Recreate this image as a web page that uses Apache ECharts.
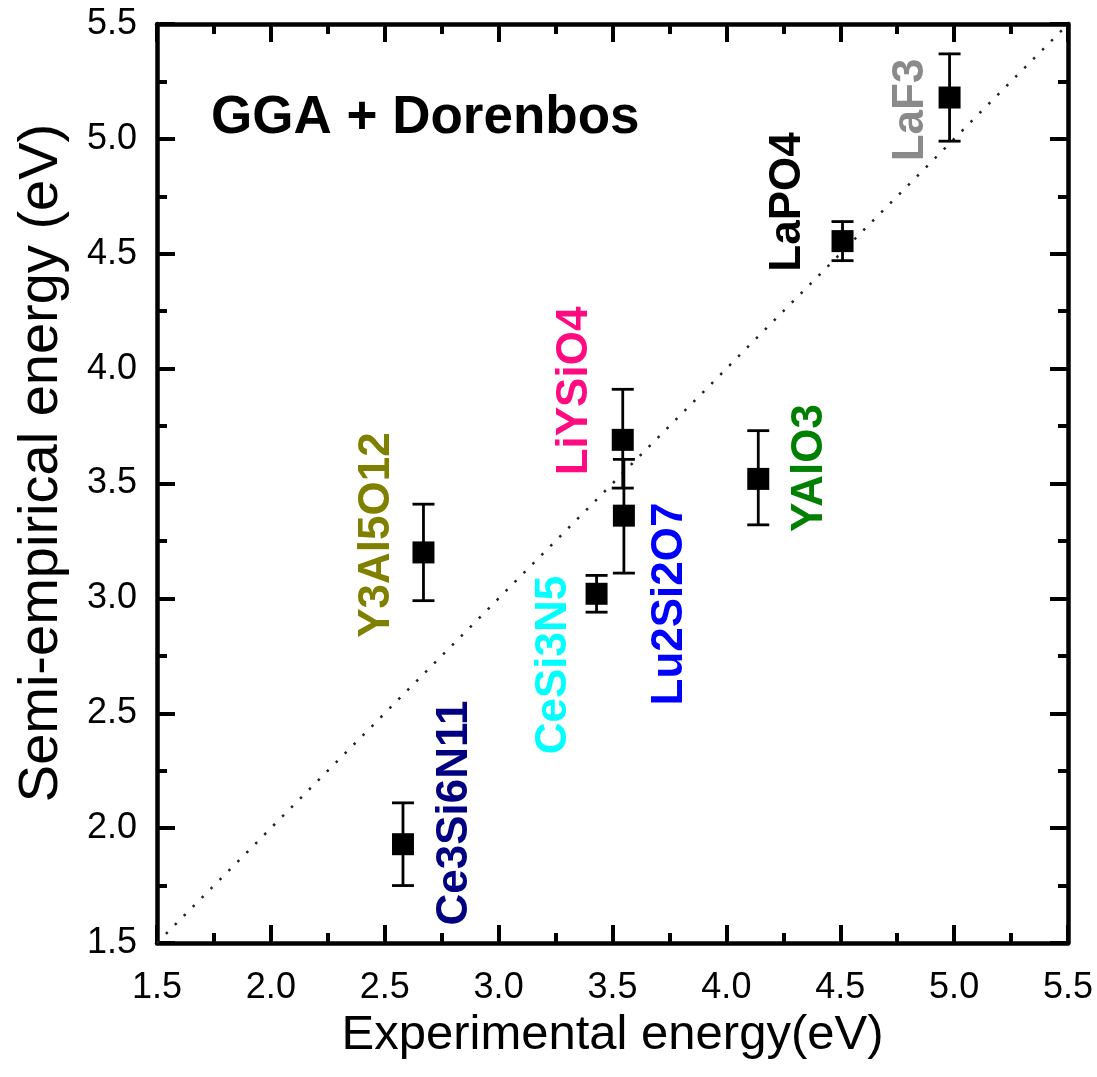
<!DOCTYPE html>
<html>
<head>
<meta charset="utf-8">
<title>GGA + Dorenbos</title>
<script src="https://cdn.jsdelivr.net/npm/echarts@6/dist/echarts.min.js"></script>
<style>
  html, body { margin: 0; padding: 0; background: #ffffff; }
  #main { width: 1097px; height: 1077px; }
</style>
</head>
<body>
<div id="main"></div>
<script>
// Compounds and their 5d energies (eV)
const compounds = ['Ce3Si6N11', 'Y3Al5O12', 'CeSi3N5', 'LiYSiO4', 'Lu2Si2O7', 'YAlO3', 'LaPO4', 'LaF3'];
const experimental = [2.58, 2.67, 3.43, 3.545, 3.55, 4.14, 4.51, 4.98];
const semiEmpirical = [1.93, 3.20, 3.02, 3.69, 3.36, 3.52, 4.555, 5.18];
const errorLow = [1.75, 2.99, 2.94, 3.48, 3.11, 3.32, 4.47, 4.99];
const errorHigh = [2.11, 3.41, 3.10, 3.91, 3.605, 3.73, 4.64, 5.37];

// Axis range and ticks (shared by both axes)
const axisRange = [1.5, 5.5];
const tickStep = 0.5;

// Label appearance for each compound
const labelColors = {
  'Ce3Si6N11': '#000080',
  'Y3Al5O12': '#808000',
  'CeSi3N5': '#00ffff',
  'LiYSiO4': '#ff0a80',
  'Lu2Si2O7': '#0000ff',
  'YAlO3': '#008000',
  'LaPO4': '#000000',
  'LaF3': '#8a8a8a'
};
// Pixel anchors (centre) of the rotated compound labels
const labelAnchors = {
  'Ce3Si6N11': [455, 813],
  'Y3Al5O12': [377, 535],
  'CeSi3N5': [554, 665],
  'LiYSiO4': [575, 391],
  'Lu2Si2O7': [670, 604],
  'YAlO3': [810, 468],
  'LaPO4': [788, 202],
  'LaF3': [911, 110]
};

const FONT = "'Liberation Sans', Arial, Helvetica, sans-serif";
const INK = '#000000';

function makeAxis(extra) {
  return Object.assign({
    type: 'value',
    min: axisRange[0],
    max: axisRange[1],
    interval: tickStep,
    splitLine: { show: false },
    axisLine: { show: true, onZero: false, lineStyle: { color: INK, width: 4.5 } },
    axisTick: { show: true, inside: true, length: 18, lineStyle: { color: INK, width: 4 } },
    minorTick: { show: true, splitNumber: 2, length: 10, lineStyle: { color: INK, width: 4 } },
    axisLabel: {
      show: true,
      color: INK,
      fontFamily: FONT,
      fontSize: 36,
      margin: 20,
      formatter: v => v.toFixed(1)
    }
  }, extra || {});
}

const chart = echarts.init(document.getElementById('main'), null, { renderer: 'canvas' });

const graphics = compounds.map(name => ({
  type: 'text',
  x: labelAnchors[name][0],
  y: labelAnchors[name][1],
  rotation: Math.PI / 2,
  z: 10,
  style: {
    text: name,
    fill: labelColors[name],
    font: "bold 44px " + FONT,
    textAlign: 'center',
    textVerticalAlign: 'middle'
  }
}));
graphics.push({
  type: 'text',
  x: 211,
  y: 118,
  z: 10,
  style: {
    text: 'GGA + Dorenbos',
    fill: INK,
    font: "bold 53px " + FONT,
    textAlign: 'left',
    textVerticalAlign: 'middle'
  }
});
// y-axis title
graphics.push({
  type: 'text',
  x: 42,
  y: 463,
  rotation: Math.PI / 2,
  z: 10,
  style: {
    text: 'Semi-empirical energy (eV)',
    fill: INK,
    font: "56px " + FONT,
    textAlign: 'center',
    textVerticalAlign: 'middle'
  }
});

chart.setOption({
  animation: false,
  backgroundColor: '#ffffff',
  grid: { left: 157, right: 29, top: 24, bottom: 134, containLabel: false },
  xAxis: [
    makeAxis({
      position: 'bottom',
      name: 'Experimental energy(eV)',
      nameLocation: 'middle',
      nameGap: 66,
      nameTextStyle: { color: INK, fontFamily: FONT, fontSize: 49 },
      axisLabel: {
        show: true, color: INK, fontFamily: FONT, fontSize: 36, margin: 27,
        formatter: v => v.toFixed(1)
      }
    }),
    makeAxis({ position: 'top', axisLabel: { show: false } })
  ],
  yAxis: [
    makeAxis({ position: 'left' }),
    makeAxis({ position: 'right', axisLabel: { show: false } })
  ],
  graphic: graphics,
  series: [
    {
      // y = x reference line
      type: 'line',
      data: [[axisRange[0], axisRange[0]], [axisRange[1], axisRange[1]]],
      symbol: 'none',
      silent: true,
      z: 1,
      lineStyle: { color: '#222222', width: 2.5, type: [2.5, 10.2] }
    },
    {
      // error bars
      type: 'custom',
      z: 2,
      data: experimental.map((x, i) => [x, errorLow[i], errorHigh[i]]),
      encode: { x: 0, y: [1, 2] },
      renderItem: function (params, api) {
        const lo = api.coord([api.value(0), api.value(1)]);
        const hi = api.coord([api.value(0), api.value(2)]);
        const half = 11;
        const style = { stroke: INK, lineWidth: 2.8 };
        return {
          type: 'group',
          children: [
            { type: 'line', shape: { x1: lo[0], y1: lo[1], x2: hi[0], y2: hi[1] }, style: style },
            { type: 'line', shape: { x1: lo[0] - half, y1: lo[1], x2: lo[0] + half, y2: lo[1] }, style: style },
            { type: 'line', shape: { x1: hi[0] - half, y1: hi[1], x2: hi[0] + half, y2: hi[1] }, style: style }
          ]
        };
      }
    },
    {
      type: 'scatter',
      z: 3,
      symbol: 'rect',
      symbolSize: 22,
      itemStyle: { color: INK, opacity: 1 },
      data: experimental.map((x, i) => [x, semiEmpirical[i]])
    }
  ]
});
</script>
</body>
</html>
